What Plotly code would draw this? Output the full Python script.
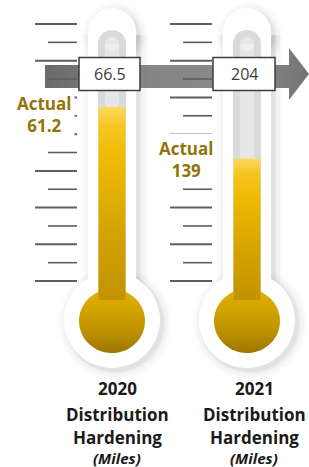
import numpy as np
import plotly.graph_objects as go

# ---------------- data ----------------
years = ["2020", "2021"]
line2 = "Distribution"
line3 = "Hardening"
unit_label = "(Miles)"
targets = [66.5, 204]
actuals = [61.2, 139]
target_labels = ["66.5", "204"]
actual_labels = ["61.2", "139"]

# ---------------- layout constants ----------------
W, H = 309, 467
cx = [112, 247]              # thermometer centres (px)
scale_lo = [30, 30]          # value at bottom of stem scale
stem_top_px, stem_bot_px = 74, 300
GOLD_TXT = "#94730a"
FONT = "Open Sans"

fig = go.Figure()
shapes = []


def tube(c, grow, color, dx=0, dy=0, layer="below"):
    hw = 24 + grow
    out = [
        dict(type="rect", x0=c - hw + dx, x1=c + hw + dx, y0=32 + dy, y1=320 + dy),
        dict(type="circle", x0=c - hw + dx, x1=c + hw + dx, y0=32 - hw + dy, y1=32 + hw + dy),
        dict(type="circle", x0=c - 48 - grow + dx, x1=c + 48 + grow + dx,
             y0=320 - 48 - grow + dy, y1=320 + 48 + grow + dy),
    ]
    for s in out:
        s.update(xref="x", yref="y", fillcolor=color, line=dict(width=0), layer=layer)
    return out


for c in cx:
    for g, a in [(9, 0.016), (6, 0.022), (3, 0.03), (1, 0.045)]:
        shapes += tube(c, g, f"rgba(0,0,0,{a})", dx=3, dy=3)
for c in cx:
    shapes += tube(c, 0, "white")
    shapes.append(dict(type="rect", x0=c - 14, x1=c + 14, y0=44, y1=305, xref="x", yref="y",
                       fillcolor="#dadada", line=dict(width=0), layer="below"))
    shapes.append(dict(type="circle", x0=c - 14, x1=c + 14, y0=30, y1=58, xref="x", yref="y",
                       fillcolor="#dadada", line=dict(width=0), layer="below"))
    shapes.append(dict(type="rect", x0=c - 7, x1=c + 7, y0=44, y1=305, xref="x", yref="y",
                       fillcolor="rgba(255,255,255,0.35)", line=dict(width=0), layer="below"))
    shapes.append(dict(type="circle", x0=c - 7, x1=c + 7, y0=37, y1=51, xref="x", yref="y",
                       fillcolor="rgba(255,255,255,0.35)", line=dict(width=0), layer="below"))

# arrow
fig.add_trace(go.Scatter(
    x=[45, 289, 289, 309, 289, 289, 45, 45],
    y=[65, 65, 48, 74, 100, 88, 88, 65],
    xaxis="x", yaxis="y", mode="none", fill="toself",
    fillgradient=dict(type="horizontal",
                      colorscale=[[0, "#6a6a6a"], [0.4, "#858585"], [0.75, "#8a8a8a"], [1, "#747474"]]),
    hoverinfo="skip", showlegend=False))

# bulbs
t = np.linspace(0, 2 * np.pi, 80)
for c in cx:
    fig.add_trace(go.Scatter(
        x=c + 33 * np.cos(t), y=321 + 32 * np.sin(t),
        xaxis="x", yaxis="y", mode="none", fill="toself",
        fillgradient=dict(type="vertical",
                          colorscale=[[0, "#9c7600"], [0.35, "#bf9300"], [0.7, "#d3a500"], [1, "#e2b300"]]),
        hoverinfo="skip", showlegend=False))

# stem fills: each thermometer on its own value scale
stem_scale = [[0, "#c29300"], [0.35, "#d4a300"], [0.7, "#edb800"], [0.9, "#f7c622"], [1, "#fcd862"]]
for i in range(2):
    x0, x1 = cx[i] - 13.5, cx[i] + 13.5
    fig.add_trace(go.Scatter(
        x=[x0, x1, x1, x0, x0],
        y=[scale_lo[i], scale_lo[i], actuals[i], actuals[i], scale_lo[i]],
        xaxis="x", yaxis=f"y{i + 2}", mode="none", fill="toself",
        fillgradient=dict(type="vertical", colorscale=stem_scale),
        hoverinfo="skip", showlegend=False))

# tick marks
tick_y = [24 + 18.36 * k for k in range(15)]
tick_right = [77, 212]
for i in range(2):
    for k, ty in enumerate(tick_y):
        long_tick = (k % 2 == 0)
        xl = tick_right[i] - (42 if long_tick else 29)
        shapes.append(dict(type="line", x0=xl, x1=tick_right[i], y0=ty, y1=ty, xref="x", yref="y",
                           line=dict(color="#5e5e5e", width=2 if long_tick else 1.6), layer="above"))

# target boxes
box_x = [(79, 140), (213, 275)]
annotations = []
for i in range(2):
    shapes.append(dict(type="rect", xref="x", yref=f"y{i + 2}", ysizemode="pixel",
                       yanchor=targets[i], y0=-16.5, y1=16.5,
                       x0=box_x[i][0], x1=box_x[i][1],
                       fillcolor="white", line=dict(color="#3c3c3c", width=1.5), layer="above"))
    annotations.append(dict(x=(box_x[i][0] + box_x[i][1]) / 2, y=targets[i], xref="x", yref=f"y{i + 2}",
                            text=target_labels[i], showarrow=False,
                            font=dict(family=FONT, size=16, color="#3c3c3c")))

# actual labels
act_x = [44, 186]
act_shift = [-8, -1]
for i in range(2):
    annotations.append(dict(x=act_x[i], y=actuals[i], xref="x", yref=f"y{i + 2}",
                            yshift=act_shift[i], showarrow=False,
                            text=f"<b>Actual<br>{actual_labels[i]}</b>",
                            bgcolor="white", borderpad=3,
                            font=dict(family=FONT, size=17, color=GOLD_TXT)))

# bottom labels
lab_x = [117, 254]
for i in range(2):
    for txt, y, size in [(f"<b>{years[i]}</b>", 388, 17),
                         (f"<b>{line2}</b>", 414, 17),
                         (f"<b>{line3}</b>", 437, 17),
                         (f"<b><i>{unit_label}</i></b>", 458, 15)]:
        annotations.append(dict(x=lab_x[i], y=y, xref="x", yref="y", text=txt, showarrow=False,
                                font=dict(family=FONT, size=size, color="#1a1a1a")))


def scale_range(i):
    # value axis spanning the full figure height: scale_lo at stem bottom, target at arrow
    per_px = (targets[i] - scale_lo[i]) / (stem_bot_px - stem_top_px)
    return [scale_lo[i] - (H - stem_bot_px) * per_px, targets[i] + stem_top_px * per_px]


fig.update_layout(
    width=W, height=H, margin=dict(l=0, r=0, t=0, b=0),
    paper_bgcolor="white", plot_bgcolor="rgba(0,0,0,0)", showlegend=False,
    xaxis=dict(range=[0, W], visible=False, domain=[0, 1], fixedrange=True),
    yaxis=dict(range=[H, 0], visible=False, domain=[0, 1], fixedrange=True),
    yaxis2=dict(range=scale_range(0), anchor="x", visible=False, fixedrange=True, domain=[0, 1]),
    yaxis3=dict(range=scale_range(1), anchor="x", visible=False, fixedrange=True, domain=[0, 1]),
    shapes=shapes, annotations=annotations,
)

fig.write_html("out.html", config={"displayModeBar": False},
               post_script="document.body.style.margin='0';document.body.style.overflow='hidden';")
